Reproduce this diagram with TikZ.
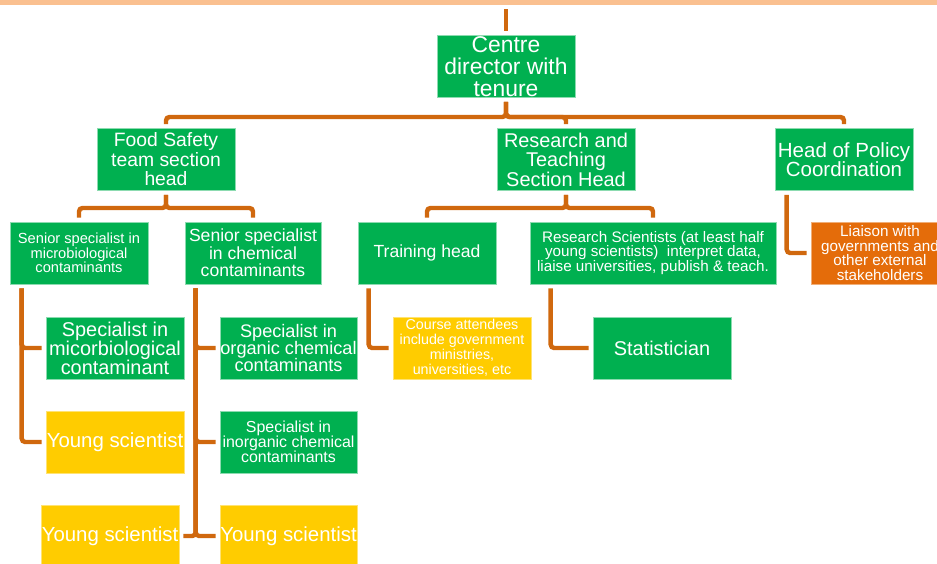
\documentclass[tikz,border=0pt]{standalone}
\usepackage{fontspec}
\setmainfont{Liberation Sans}
\usetikzlibrary{positioning}

\definecolor{boxgreen}{HTML}{00B050}
\definecolor{boxyellow}{HTML}{FFCC00}
\definecolor{boxorange}{HTML}{E46C0A}
\definecolor{linkorange}{HTML}{D0680E}
\definecolor{bannerpeach}{HTML}{FAC090}

\begin{document}
\begin{tikzpicture}[x=0.3mm, y=-0.3mm,
    gbox/.style={rectangle, fill=boxgreen, draw=white!55!boxgreen, line width=0.5pt, text=white, align=center, inner sep=0pt, minimum width=41.4mm, minimum height=18.6mm},
    ybox/.style={gbox, fill=boxyellow, draw=white!45!boxyellow},
    obox/.style={gbox, fill=boxorange, draw=white!45!boxorange},
    link/.style={draw=linkorange, line width=3.8pt, rounded corners=3pt, shorten <=1.2mm, shorten >=1.2mm}]

    \useasboundingbox (0,0) rectangle (937,563);
    \clip (0,0) rectangle (937,563);

    % Banner (cut off at the top)
    \node[rectangle, fill=bannerpeach, inner sep=0pt, minimum width=281.1mm, minimum height=7.2mm] (banner) at (468.5,-7) {};

    % Director
    \node[gbox, font=\fontsize{19.5}{18.8}\selectfont] (dir) at (506,66.5) {Centre\\director with\\tenure};

    % Section heads
    \node[gbox, font=\fontsize{16.5}{16.6}\selectfont] (fs) at (166,159.5) {Food Safety\\team section\\head};
    \node[gbox, font=\fontsize{17}{16.6}\selectfont] (rt) at (566,159.5) {Research and\\Teaching\\Section Head};
    \node[gbox, font=\fontsize{17.5}{16.6}\selectfont] (pol) at (844,159.5) {Head of Policy\\Coordination};

    % Second level
    \node[gbox, font=\fontsize{12.5}{12.4}\selectfont] (sm) at (79,253) {Senior specialist in\\microbiological\\contaminants};
    \node[gbox, minimum width=40.8mm, font=\fontsize{15}{15}\selectfont] (sc) at (253,253) {Senior specialist\\in chemical\\contaminants};
    \node[gbox, font=\fontsize{15}{15}\selectfont] (th) at (427,253) {Training head};
    \node[gbox, minimum width=73.8mm, font=\fontsize{13}{12.4}\selectfont] (rs) at (653,253) {Research Scientists (at least half\\young scientists)\ \ interpret data,\\liaise universities, publish \& teach.};
    \node[obox, font=\fontsize{13}{12.4}\selectfont] (li) at (880,253) {Liaison with\\governments and\\other external\\stakeholders};

    % Third level
    \node[gbox, font=\fontsize{17}{16.2}\selectfont] (spm) at (115,348) {Specialist in\\micorbiological\\contaminant};
    \node[gbox, minimum width=41.1mm, font=\fontsize{15.5}{14.5}\selectfont] (sorg) at (288.5,348) {Specialist in\\organic chemical\\contaminants};
    \node[ybox, font=\fontsize{12.2}{12.8}\selectfont] (ca) at (462,348) {Course attendees\\include government\\ministries,\\universities, etc};
    \node[gbox, font=\fontsize{17}{17}\selectfont] (stat) at (662,348) {Statistician};

    % Fourth level
    \node[ybox, font=\fontsize{17.4}{17}\selectfont] (ys1) at (115,442) {Young scientist};
    \node[gbox, minimum width=41.1mm, font=\fontsize{13.6}{12.8}\selectfont] (sinorg) at (288.5,442) {Specialist in\\inorganic chemical\\contaminants};

    % Fifth level
    \node[ybox, font=\fontsize{17.4}{17}\selectfont] (ys2) at (110,536) {Young scientist};
    \node[ybox, minimum width=41.1mm, font=\fontsize{17.4}{17}\selectfont] (ys3) at (288.5,536) {Young scientist};

    % Bar heights
    \coordinate (bar0) at (0,117);
    \coordinate (bar1) at (0,208);

    % Connectors
    \draw[link] (dir.north |- banner.south) -- (dir.north);
    \foreach \n in {fs,rt,pol} {
        \draw[link] (dir.south) |- (bar0 -| \n.north) -- (\n.north);
    }
    \foreach \n in {sm,sc} {
        \draw[link] (fs.south) |- (bar1 -| \n.north) -- (\n.north);
    }
    \foreach \n in {th,rs} {
        \draw[link] (rt.south) |- (bar1 -| \n.north) -- (\n.north);
    }
    \draw[link] ([xshift=3.6mm]pol.south west) |- (li.west);
    \foreach \n in {spm,ys1} {
        \draw[link] ([xshift=3.6mm]sm.south west) |- (\n.west);
    }
    \foreach \n in {sorg,sinorg,ys3} {
        \draw[link] ([xshift=3.3mm]sc.south west) |- (\n.west);
    }
    \draw[link] ([xshift=3.3mm]sc.south west) |- (ys2.east);
    \draw[link] ([xshift=3.3mm]th.south west) |- (ca.west);
    \draw[link] ([xshift=6.3mm]rs.south west) |- (stat.west);

\end{tikzpicture}
\end{document}
